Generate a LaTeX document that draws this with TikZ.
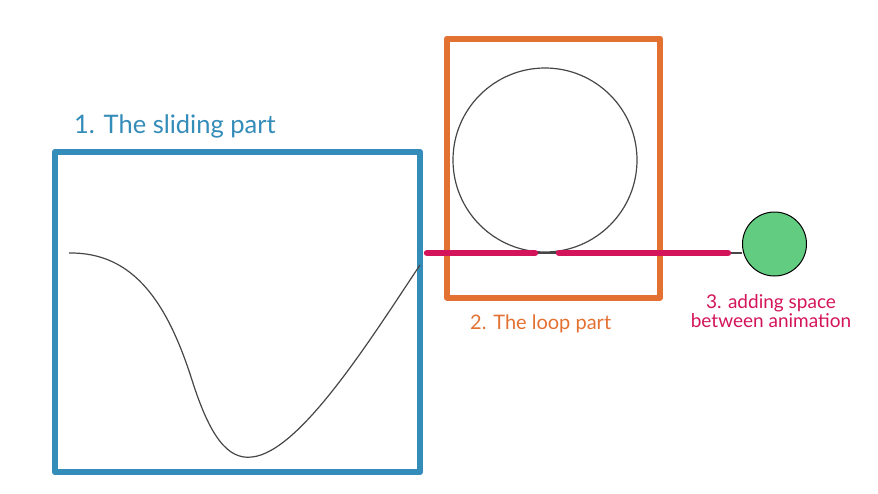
\documentclass[tikz,border=0pt]{standalone}
\usepackage{fontspec}
\setmainfont{Lato}
\definecolor{slideblue}{RGB}{52,140,185}
\definecolor{looporange}{RGB}{227,113,50}
\definecolor{gapmagenta}{RGB}{212,20,90}
\definecolor{ballgreen}{RGB}{98,205,128}
\definecolor{pathgrey}{RGB}{70,70,70}
\begin{document}
\begin{tikzpicture}[x=1pt,y=-1pt,
  partbox/.style={draw, line width=#1, rectangle, inner sep=0pt, line join=round},
  thinpath/.style={draw=pathgrey, line width=1.2pt},
  gapline/.style={draw=gapmagenta, line width=6.5pt, line cap=round},
  lbl/.style={inner sep=0pt, anchor=west, font=\fontsize{#1}{#1}\selectfont}]
\useasboundingbox (0,0) rectangle (878,493);
% boxes
\node[partbox=6.5pt, draw=slideblue, minimum width=365pt, minimum height=320pt] (slide) at (237.5,312) {};
\node[partbox=6pt, draw=looporange, minimum width=213pt, minimum height=259pt] (loopbox) at (553.5,168) {};
% loop circle
\node[draw=pathgrey, line width=1.2pt, circle, minimum size=184pt, inner sep=0pt] (loop) at (545,160) {};
% ball
\node[draw=black, line width=1pt, fill=ballgreen, circle, minimum size=64pt, inner sep=0pt] (ball) at (774.5,244) {};
% sliding curve
\coordinate (cstart) at (69,253);
\coordinate (cend) at (420,265);
\draw[thinpath] (cstart) .. controls (135,252) and (168,305) .. (192,380)
  .. controls (210,437) and (228,460) .. (252,457)
  .. controls (300,452) and (370,340) .. (cend);
% gap lines
\coordinate (g1) at (427,253);
\coordinate (g2) at (535,253);
\coordinate (g3) at (559,253);
\coordinate (g4) at (728,253);
\draw[thinpath] (g2) -- (g3);
\draw[thinpath] (g4) -- (ball.west |- g4);
\draw[gapline] (g1) -- (g2);
\draw[gapline] (g3) -- (g4);
% labels
\node[lbl=25.5, text=slideblue] (l1) at (74,126) {1. The sliding part};
\node[lbl=20, text=looporange] (l2) at (470,324) {2. The loop part};
\node[lbl=19, text=gapmagenta, align=center, anchor=center] (l3) at (771,311) {3. adding space\\between animation};
\end{tikzpicture}
\end{document}
